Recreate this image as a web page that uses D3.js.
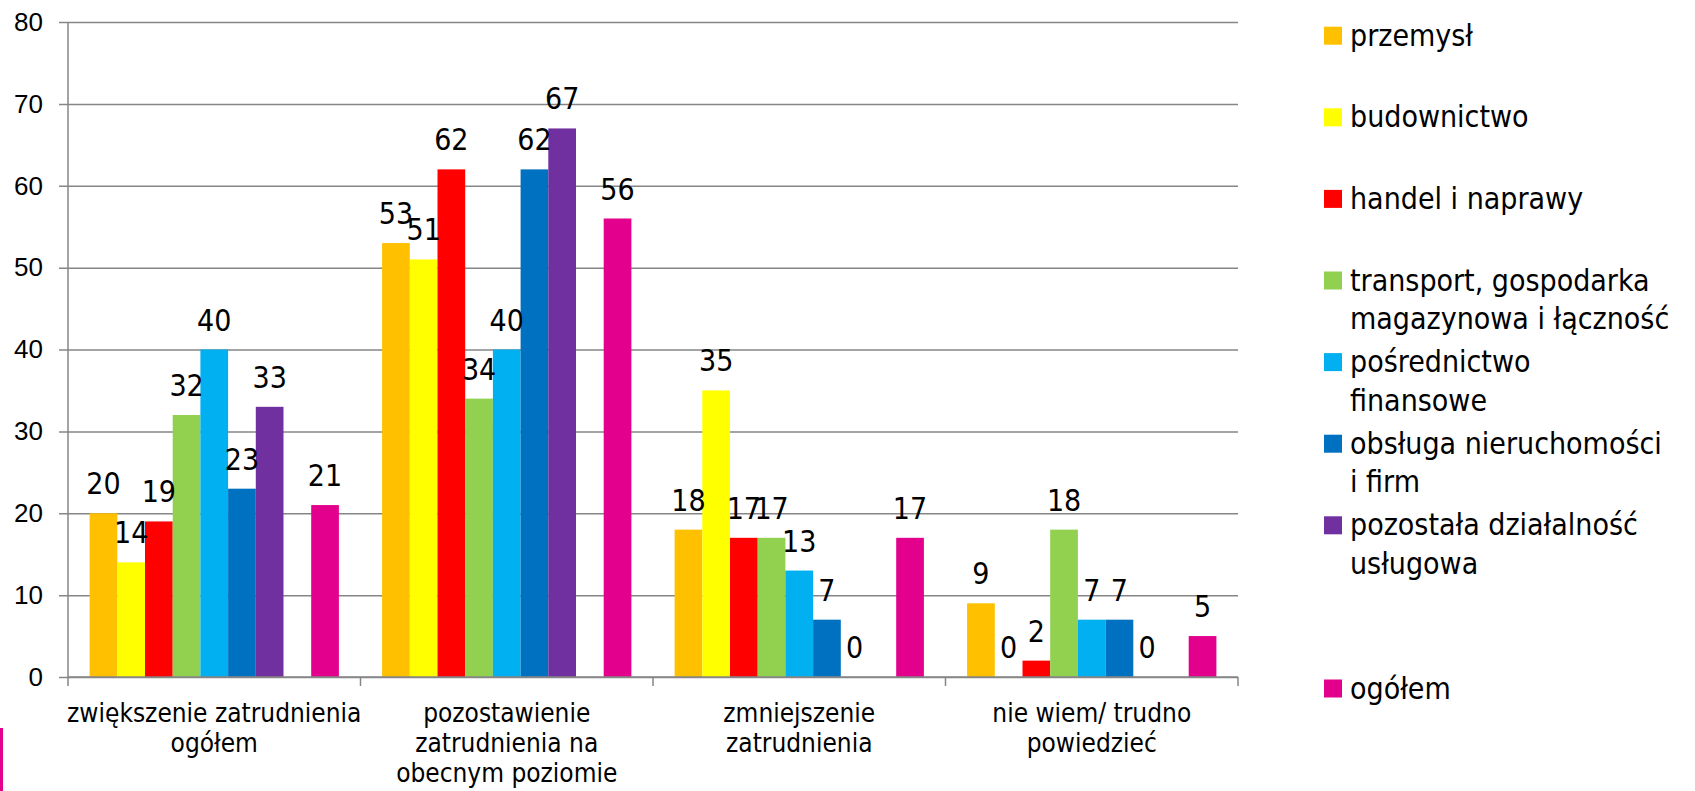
<!DOCTYPE html>
<html>
<head>
<meta charset="utf-8">
<script src="https://cdn.jsdelivr.net/npm/d3@7"></script>
<style>
  body { margin: 0; background: #fff; }
  svg { display: block; font-family: "DejaVu Sans Condensed", "DejaVu Sans", sans-serif; }
</style>
</head>
<body>
<svg id="chart"></svg>
<script>
// categories (x axis), already split into lines as in the picture
var categories = [
    ["zwiększenie zatrudnienia", "ogółem"],
    ["pozostawienie", "zatrudnienia na", "obecnym poziomie"],
    ["zmniejszenie", "zatrudnienia"],
    ["nie wiem/ trudno", "powiedzieć"]
];

// series names (legend lines); the 8th series is empty in the original
var seriesNames = [
    ["przemysł"],
    ["budownictwo"],
    ["handel i naprawy"],
    ["transport, gospodarka", "magazynowa i łączność"],
    ["pośrednictwo", "finansowe"],
    ["obsługa nieruchomości", "i firm"],
    ["pozostała działalność", "usługowa"],
    [],
    ["ogółem"]
];

var przemysl     = [20, 53, 18, 9];
var budownictwo  = [14, 51, 35, 0];
var handel       = [19, 62, 17, 2];
var transport    = [32, 34, 17, 18];
var posrednictwo = [40, 40, 13, 7];
var obsluga      = [23, 62, 7, 7];
var pozostala    = [33, 67, 0, 0];
var pusta        = [null, null, null, null];
var ogolem       = [21, 56, 17, 5];

var seriesValues = [przemysl, budownictwo, handel, transport, posrednictwo, obsluga, pozostala, pusta, ogolem];
var colors = ["#FFC000", "#FFFF00", "#FF0000", "#92D050", "#00B0F0", "#0070C0", "#7030A0", "#FFFFFF", "#E3008C"];

var yTicks = [0, 10, 20, 30, 40, 50, 60, 70, 80];

var dimensions = {
    width: 1695,
    height: 791,
    plot: { left: 68, right: 1238, top: 22, bottom: 677 }
};

var svg = d3.select("#chart")
    .attr("width", dimensions.width)
    .attr("height", dimensions.height);

var x0 = d3.scaleBand()
    .domain(d3.range(categories.length))
    .range([dimensions.plot.left, dimensions.plot.right])
    .paddingInner(0)
    .paddingOuter(0);

var x1 = d3.scaleBand()
    .domain(d3.range(seriesValues.length))
    .range([0, x0.bandwidth()])
    .paddingInner(0)
    .paddingOuter(0.78);

var yScale = d3.scaleLinear()
    .domain([0, 80])
    .range([dimensions.plot.bottom, dimensions.plot.top]);

// gridlines + y axis with labels
var yAxis = svg.append("g")
    .attr("transform", "translate(" + dimensions.plot.left + ",0)")
    .call(d3.axisLeft(yScale)
        .tickValues(yTicks)
        .tickSize(9)
        .tickPadding(16));
yAxis.select(".domain").remove();
yAxis.selectAll(".tick line")
    .attr("x1", -9)
    .attr("x2", dimensions.plot.right - dimensions.plot.left)
    .attr("stroke", "#868686")
    .attr("stroke-width", 1.5);
yAxis.selectAll(".tick text")
    .attr("font-family", null)
    .style("font-size", "26px")
    .attr("fill", "#000");

// y axis line
svg.append("line")
    .attr("x1", dimensions.plot.left).attr("x2", dimensions.plot.left)
    .attr("y1", dimensions.plot.top).attr("y2", dimensions.plot.bottom)
    .attr("stroke", "#868686").attr("stroke-width", 1.5);

// bars
var groups = svg.append("g").selectAll("g")
    .data(categories)
    .enter()
    .append("g")
    .attr("transform", (d, i) => "translate(" + x0(i) + ",0)");

groups.selectAll("rect")
    .data((d, i) => seriesValues.map((vals, s) => ({ s: s, v: vals[i] })).filter(e => e.v !== null))
    .enter()
    .append("rect")
    .attr("x", d => x1(d.s))
    .attr("y", d => yScale(d.v))
    .attr("width", x1.bandwidth())
    .attr("height", d => yScale(0) - yScale(d.v))
    .attr("fill", d => colors[d.s]);

// x axis line + ticks at category borders
svg.append("line")
    .attr("x1", dimensions.plot.left).attr("x2", dimensions.plot.right)
    .attr("y1", yScale(0)).attr("y2", yScale(0))
    .attr("stroke", "#868686").attr("stroke-width", 1.5);

var borders = d3.range(categories.length + 1).map(i => i < categories.length ? x0(i) : dimensions.plot.right);
svg.append("g").selectAll("line")
    .data(borders)
    .enter()
    .append("line")
    .attr("x1", d => d).attr("x2", d => d)
    .attr("y1", yScale(0)).attr("y2", yScale(0) + 9)
    .attr("stroke", "#868686").attr("stroke-width", 1.5);

// category labels
svg.append("g").selectAll("text")
    .data(categories)
    .enter()
    .append("text")
    .attr("text-anchor", "middle")
    .style("font-size", "26px")
    .attr("fill", "#000")
    .each(function(lines, i) {
        d3.select(this).selectAll("tspan")
            .data(lines)
            .enter()
            .append("tspan")
            .attr("x", x0(i) + x0.bandwidth() / 2)
            .attr("y", (l, k) => 722 + k * 30)
            .text(l => l);
    });

// value labels
groups.selectAll(".value")
    .data((d, i) => seriesValues.map((vals, s) => ({ s: s, v: vals[i] })).filter(e => e.v !== null))
    .enter()
    .append("text")
    .attr("class", "value")
    .attr("x", d => x1(d.s) + x1.bandwidth() / 2)
    .attr("y", d => yScale(d.v) - 19)
    .attr("text-anchor", "middle")
    .style("font-size", "30px")
    .attr("fill", "#000")
    .text(d => d.v);

// legend
var legend = svg.append("g").selectAll("g")
    .data(seriesNames)
    .enter()
    .append("g")
    .attr("transform", (d, i) => "translate(1324," + (35.7 + i * 81.6) + ")");

legend.filter(d => d.length > 0)
    .append("rect")
    .attr("x", 0).attr("y", -9)
    .attr("width", 18).attr("height", 18)
    .attr("fill", (d, i) => colors[seriesNames.indexOf(d)]);

legend.append("text")
    .style("font-size", "30px")
    .attr("fill", "#000")
    .selectAll("tspan")
    .data(d => d)
    .enter()
    .append("tspan")
    .attr("x", 26)
    .attr("y", (l, k) => 10 + k * 38.5)
    .text(l => l);

// stray magenta mark at the lower left edge of the original picture
svg.append("rect")
    .attr("x", 0).attr("y", 728)
    .attr("width", 3).attr("height", 63)
    .attr("fill", colors[8]);
</script>
</body>
</html>
